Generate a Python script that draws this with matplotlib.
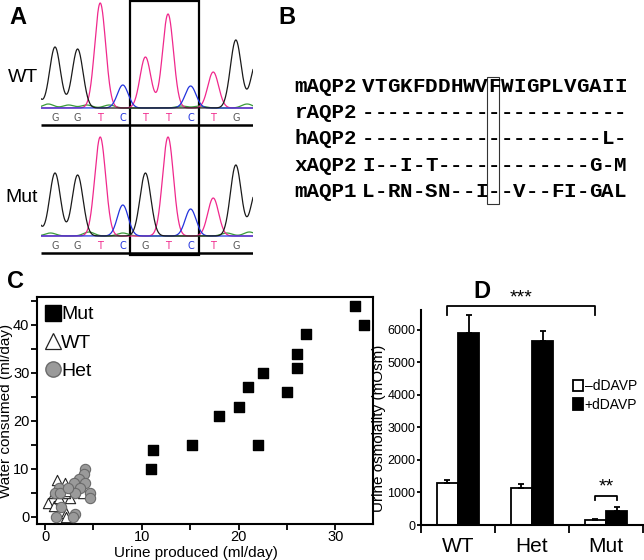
import numpy as np
import matplotlib
matplotlib.use("Agg")
import matplotlib.pyplot as plt
from matplotlib.patches import Rectangle
from matplotlib.lines import Line2D

plt.rcParams['font.family'] = ['Liberation Sans', 'DejaVu Sans']

W, H = 644, 560

# ---- panel A: chromatogram peaks (base index, height in px) ----
bases_wt = ["G", "G", "T", "C", "T", "T", "C", "T", "G"]
bases_mut = ["G", "G", "T", "C", "G", "T", "C", "T", "G"]
wt_black = [(-1.0, 25), (0, 61), (1, 59), (8, 68), (8.9, 45)]
wt_pink = [(2, 105), (4, 51), (5, 94), (7, 36)]
wt_blue = [(3, 23), (6, 22)]
wt_green = [(-0.3, 4), (0.6, 3), (1.4, 3), (2.4, 3), (5.6, 2), (6.4, 2), (8.5, 4)]
mut_black = [(-1.0, 30), (0, 63), (1, 61), (4, 63), (8, 71), (8.9, 45)]
mut_pink = [(2, 99), (5, 99), (7, 38)]
mut_blue = [(3, 31), (6, 27)]
mut_green = [(-0.2, 3), (1.5, 4), (3.0, 3), (7.6, 3), (8.6, 4)]

# ---- panel B: alignment ----
seq_names = ["mAQP2", "rAQP2", "hAQP2", "xAQP2", "mAQP1"]
seqs = ["VTGKFDDHWVFWIGPLVGAII",
        "---------------------",
        "-------------------L-",
        "I--I-T------------G-M",
        "L-RN-SN--I--V--FI-GAL"]
mut_col = 10

# ---- panel C: water intake vs urine output ----
mut_x = [11.0, 11.2, 15.2, 18.0, 20.0, 21.0, 22.5, 22.0, 25.0, 26.0, 26.0, 27.0, 32.0, 33.0]
mut_y = [10, 14, 15, 21, 23, 27, 30, 15, 26, 31, 34, 38, 44, 40]
wt_x = [1.2, 2.1, 0.3, 0.9, 2.2, 2.2, 1.4, 2.6, 3.9, 2.1, 0.9, 1.3, 2.2]
wt_y = [7.7, 7.0, 2.9, 2.2, 0.8, 0.0, 4.0, 4.0, 5.0, 5.0, 5.0, 5.6, 5.5]
het_x = [4.1, 4.0, 3.5, 3.0, 4.1, 3.6, 4.6, 4.6, 3.1, 1.4, 1.0, 1.5, 1.7, 1.1, 3.1, 2.9, 2.4]
het_y = [10, 9, 8, 7, 7, 6, 5, 4, 5, 6, 5, 5, 2, 0, 0.6, 0, 6]

# ---- panel D: urine osmolality ----
groups = ["WT", "Het", "Mut"]
minus_ddavp = [1280, 1150, 150]
minus_err = [100, 100, 40]
plus_ddavp = [5900, 5650, 430]
plus_err = [550, 300, 120]

fig = plt.figure(figsize=(W / 100, H / 100), dpi=100)


def px_axes(x0, y0, x1, y1):
    # rectangle given in pixel coords (top-left origin)
    return fig.add_axes([x0 / W, 1 - y1 / H, (x1 - x0) / W, (y1 - y0) / H])


def trace(xs, peaks, sigma=0.24):
    y = np.zeros_like(xs)
    for c, h in peaks:
        y += h * np.exp(-(xs - c) ** 2 / (2 * sigma ** 2))
    return y


PINK = "#f0288c"
BLUE = "#2233dd"
GREEN = "#3a9a3a"
DARK = "#1a1a1a"
base_col = {"G": "#555555", "T": PINK, "C": BLUE}

# Panel A
axA = px_axes(41, 0, 253, 260)
axA.set_xlim(-0.62, 8.76)
axA.set_ylim(260, 0)
axA.axis("off")
xs = np.linspace(-0.62, 8.76, 800)
for base_y, bases, tr in [
        (108, bases_wt, (wt_green, wt_pink, wt_blue, wt_black)),
        (236, bases_mut, (mut_green, mut_pink, mut_blue, mut_black))]:
    for peaks, col in zip(tr, (GREEN, PINK, BLUE, DARK)):
        axA.plot(xs, base_y - trace(xs, peaks), color=col, lw=0.9)
    for i, b in enumerate(bases):
        axA.text(i, base_y + 10, b, color=base_col[b], fontsize=7,
                 ha="center", va="center", family="DejaVu Sans")
    axA.plot([-0.62, 8.76], [base_y + 17, base_y + 17], color="black", lw=1.8,
             solid_capstyle="butt")
axA.add_patch(Rectangle((3.32, 1), 3.05, 254, fill=False, lw=1.6,
                        edgecolor="black", clip_on=False))
fig.text(8 / W, 1 - 77 / H, "WT", fontsize=14, va="center")
fig.text(5 / W, 1 - 197 / H, "Mut", fontsize=14, va="center")

# Panel B
axB = px_axes(290, 70, 644, 210)
axB.set_xlim(-6.21, 21.88)
axB.set_ylim(4.68, -0.604)
axB.axis("off")
for r, (name, s) in enumerate(zip(seq_names, seqs)):
    axB.text(-0.9, r, name, family="Liberation Mono", weight="bold",
             fontsize=15, ha="right", va="center")
    for c, ch in enumerate(s):
        axB.text(c, r, ch, family="Liberation Mono", weight="bold",
                 fontsize=15, ha="center", va="center")
axB.add_patch(Rectangle((mut_col - 0.58, -0.34), 0.95, 4.79, fill=False,
                        lw=0.8, edgecolor="#333333", clip_on=False))

# Panel C
axC = px_axes(37, 297, 373, 524)
axC.scatter(wt_x, wt_y, marker="^", s=55, facecolor="white",
            edgecolor="#222222", linewidths=0.8, zorder=3)
axC.scatter(het_x, het_y, marker="o", s=55, facecolor="#9a9a9a",
            edgecolor="#6a6a6a", linewidths=0.8, zorder=3)
axC.scatter(mut_x, mut_y, marker="s", s=45, facecolor="black",
            edgecolor="black", zorder=3)
axC.set_xlim(-0.83, 33.9)
axC.set_ylim(-1.46, 45.8)
axC.set_xticks([0, 10, 20, 30])
axC.set_xticks([5, 15, 25], minor=True)
axC.set_yticks([0, 10, 20, 30, 40])
axC.set_yticks([5, 15, 25, 35, 45], minor=True)
axC.tick_params(width=1.3, length=4.5)
axC.tick_params(axis="x", labelsize=10.5, pad=0)
axC.tick_params(axis="y", labelsize=10.5, pad=1)
axC.tick_params(which="minor", width=1.3, length=4.5)
for sp in axC.spines.values():
    sp.set_linewidth(1.5)
axC.set_xlabel("Urine produced (ml/day)", fontsize=11, va="center")
axC.xaxis.set_label_coords(0.473, -0.128)
axC.set_ylabel("Water consumed (ml/day)", fontsize=11, va="center")
axC.yaxis.set_label_coords(-0.091, 0.5)
handles = [
    Line2D([], [], ls="", marker="s", ms=11, mfc="black", mec="black"),
    Line2D([], [], ls="", marker="^", ms=12, mfc="white", mec="#222222", mew=0.9),
    Line2D([], [], ls="", marker="o", ms=11, mfc="#9a9a9a", mec="#6a6a6a"),
]
axC.legend(handles, ["Mut", "WT", "Het"], loc="upper left", frameon=False,
           fontsize=14, handlelength=0.7, handletextpad=0.1,
           labelspacing=0.55, borderaxespad=0.15, borderpad=0.3)

# Panel D
axD = px_axes(421, 310, 643, 525)
x = np.arange(len(groups))
bw = 0.284
axD.bar(x - bw / 2, minus_ddavp, bw, color="white", edgecolor="black",
        lw=1.3, yerr=[[0] * 3, minus_err], capsize=2.5,
        error_kw=dict(elinewidth=1.3, capthick=1.3), label="\u2013dDAVP")
axD.bar(x + bw / 2, plus_ddavp, bw, color="black", edgecolor="black",
        lw=1.3, yerr=[[0] * 3, plus_err], capsize=2.5,
        error_kw=dict(elinewidth=1.3, capthick=1.3), label="+dDAVP")
axD.set_xlim(-0.5, 2.5)
axD.set_ylim(0, 6600)
axD.set_yticks(range(0, 7000, 1000))
axD.set_xticks([-0.5, 0.5, 1.5, 2.5])
axD.set_xticklabels([])
axD.set_xticks(x, minor=True)
axD.set_xticklabels(groups, minor=True, fontsize=15)
axD.tick_params(axis="x", which="minor", length=0, pad=9)
axD.tick_params(axis="x", which="major", length=6, width=1.3)
axD.tick_params(axis="y", labelsize=9, width=1.3, length=3, pad=1)
axD.spines["top"].set_visible(False)
axD.spines["right"].set_visible(False)
axD.spines["left"].set_linewidth(1.5)
axD.spines["bottom"].set_linewidth(1.5)
axD.set_ylabel("Urine osmolality (mOsm)", fontsize=11, va="center")
axD.yaxis.set_label_coords(-0.19, 0.45)
axD.legend(loc="upper right", bbox_to_anchor=(1.03, 0.735), frameon=False,
           fontsize=10, handlelength=0.7, handleheight=0.9,
           handletextpad=0.15, labelspacing=0.3)
# significance brackets
x1, x2 = x[0] - bw / 2, x[2] - bw / 2
axD.plot([x1, x1, x2, x2], [6460, 6710, 6710, 6460], color="black", lw=1.3,
         clip_on=False)
axD.text((x1 + x2) / 2, 6720, "***", ha="center", va="bottom", fontsize=14)
x3, x4 = x[2] - bw / 2, x[2] + bw / 2
axD.plot([x3, x3, x4, x4], [770, 890, 890, 770], color="black", lw=1.3)
axD.text((x3 + x4) / 2, 900, "**", ha="center", va="bottom", fontsize=14)

# panel letters
for lab, (px, py) in zip("ABCD", [(18, 18), (287, 18), (16, 281), (482, 291)]):
    fig.text(px / W, 1 - py / H, lab, fontsize=17, weight="bold",
             ha="center", va="center")

fig.savefig("out.png", dpi=100)
